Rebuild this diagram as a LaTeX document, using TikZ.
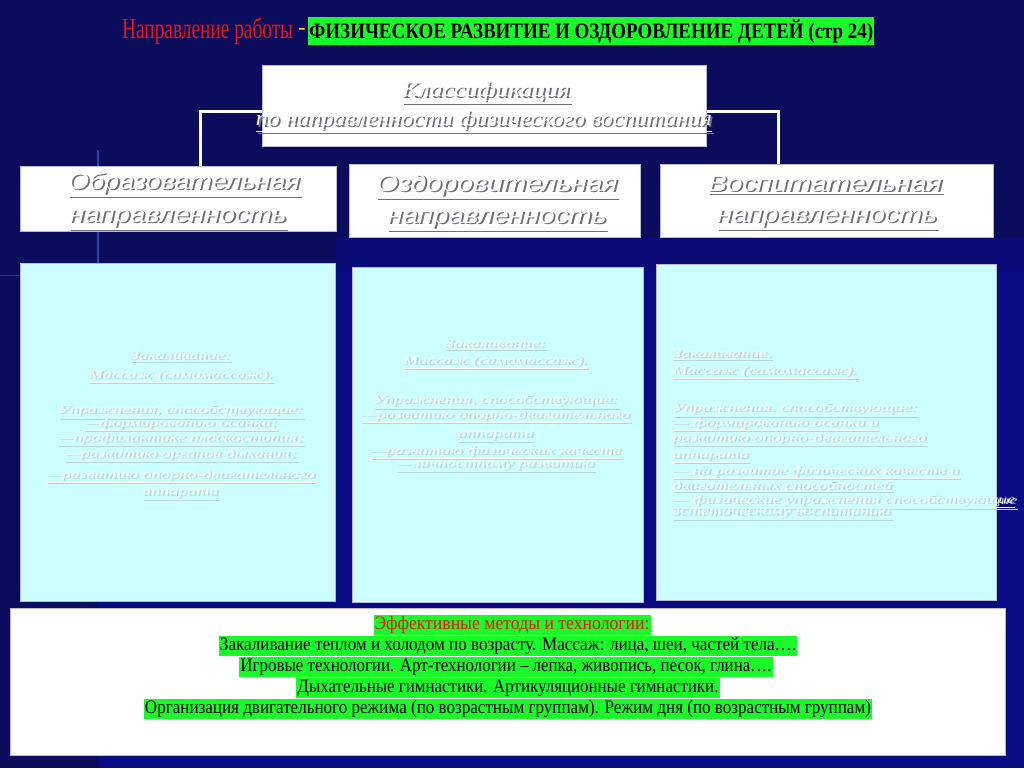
\documentclass[tikz,border=0pt]{standalone}
\usepackage{fontspec}
\usepackage{graphicx}
\setmainfont{Liberation Serif}
\setsansfont{Liberation Sans}
\definecolor{navyA}{RGB}{12,12,92}
\definecolor{navyB}{RGB}{10,10,130}
\definecolor{cyanbox}{RGB}{204,255,255}
\definecolor{hl}{RGB}{25,250,40}
\definecolor{titlered}{RGB}{235,20,20}
\definecolor{dashyel}{RGB}{240,200,40}
\definecolor{shadowc}{RGB}{110,110,125}
\definecolor{cshadow}{RGB}{182,212,218}
\definecolor{boxedge}{RGB}{185,185,215}
\definecolor{glow}{RGB}{60,110,220}
\newcommand\fitw[2]{\resizebox{#1}{\height}{#2}}
\newcommand\embw[2]{\leavevmode\rlap{\hspace{1.5pt}\raisebox{-1.5pt}{\textcolor{#1}{\underline{#2}}}}\textcolor{white}{\underline{#2}}}
\newcommand\cyt[1]{\scalebox{1.5}[1]{\embw{cshadow}{#1}}}
\tikzset{
  whitebox/.style={draw=boxedge, line width=0.8pt, fill=white},
  cybox/.style={draw=boxedge, line width=0.8pt, fill=cyanbox},
  conn/.style={draw=white, line width=3pt},
  hdtext/.style={inner sep=0pt, font=\sffamily\itshape\fontsize{23}{23}\selectfont},
  cltext/.style={inner sep=0pt, font=\itshape\fontsize{22}{22}\selectfont},
  cytext/.style={inner sep=0pt, font=\itshape\fontsize{12}{12}\selectfont},
  hltext/.style={fill=hl, inner xsep=1pt, inner ysep=1pt, font=\fontsize{19}{19}\selectfont},
}
\begin{document}
\begin{tikzpicture}[x=1pt,y=-1pt]
\useasboundingbox (0,0) rectangle (1024,768);
% background
\fill[navyA] (0,0) rectangle (1024,768);
\fill[navyB] (98,270) rectangle (1024,768);
\fill[navyB!70!navyA] (336,238) rectangle (1024,270);
\draw[glow, line width=1.5pt, opacity=0.6] (98,150) -- (98,340);
\draw[glow, line width=1pt, opacity=0.4] (0,275) -- (98,275);

% title
\node[anchor=west, inner sep=0pt, text=titlered, font=\fontsize{29}{29}\selectfont] (tred) at (122,31) {\fitw{171pt}{Направление работы}};
\node[anchor=center, inner sep=0pt, text=dashyel, font=\bfseries\fontsize{22}{22}\selectfont] (tdash) at (302,31) {-};
\node[anchor=west, fill=hl, inner xsep=1pt, inner ysep=2.5pt, font=\bfseries\fontsize{22}{22}\selectfont] (tgreen) at (308,31) {\fitw{564pt}{ФИЗИЧЕСКОЕ РАЗВИТИЕ И ОЗДОРОВЛЕНИЕ ДЕТЕЙ (стр 24)}};

% connector
\coordinate (j1) at (200,111);
\coordinate (j2) at (778,111);

% header boxes
\node[whitebox, minimum width=316pt, minimum height=65pt, anchor=north west] (lefth) at (20,166) {};
\node[whitebox, minimum width=291pt, minimum height=73pt, anchor=north west] (midh) at (349,164) {};
\node[whitebox, minimum width=333pt, minimum height=73pt, anchor=north west] (righth) at (660,164) {};
\draw[conn] (lefth.north -| j1) -- (j1) -- (j2) -- (righth.north -| j2);

% top box
\node[whitebox, minimum width=444pt, minimum height=81pt, anchor=north west] (cls) at (262,65) {};
\node[cltext] (cls1) at (486,93) {\fitw{168pt}{\embw{shadowc}{Классификация}}};
\node[cltext] (cls2) at (484,122) {\fitw{456pt}{\embw{shadowc}{по направленности физического воспитания}}};

% header texts
\node[hdtext] (l1) at (184,185) {\fitw{232pt}{\embw{shadowc}{Образовательная}}};
\node[hdtext] (l2) at (178,220) {\fitw{217pt}{\embw{shadowc}{направленность}}};
\node[hdtext] (m1) at (497,187) {\fitw{241pt}{\embw{shadowc}{Оздоровительная}}};
\node[hdtext] (m2) at (497,221) {\fitw{219pt}{\embw{shadowc}{направленность}}};
\node[hdtext] (r1) at (825,185) {\fitw{234pt}{\embw{shadowc}{Воспитательная}}};
\node[hdtext] (r2) at (827,220) {\fitw{220pt}{\embw{shadowc}{направленность}}};

% cyan boxes
\node[cybox, minimum width=315pt, minimum height=338pt, anchor=north west] (lbox) at (20,263) {};
\node[cybox, minimum width=291pt, minimum height=335pt, anchor=north west] (mbox) at (352,267) {};
\node[cybox, minimum width=340pt, minimum height=336pt, anchor=north west] (rbox) at (656,264) {};

\foreach \yy/\tt [count=\i] in {357/{Закаливание:}, 377/{Массаж (самомассаж).}, 412/{Упражнения, способствующие:}, 425/{—формированию осанки;}, 440/{—профилактике плоскостопия;}, 456/{—развитию органов дыхания;}, 477/{—развитию опорно-двигательного}, 495/{аппарата}}
  \node[cytext] (lt\i) at (180,\yy) {\cyt{\tt}};
\foreach \yy/\tt [count=\i] in {345/{Закаливание:}, 363/{Массаж (самомассаж).}, 402/{Упражнения, способствующие:}, 417/{—развитию опорно-двигательного}, 437/{аппарата}, 453/{—развитию физических качеств}, 467/{—личностному развитию}}
  \node[cytext] (mt\i) at (495,\yy) {\cyt{\tt}};
\foreach \yy/\tt [count=\i] in {355/{Закаливание.}, 373/{Массаж (самомассаж).}, 410/{Упражнения, способствующие:}, 425/{— формированию осанки и}, 440/{развитию опорно-двигательного}, 458/{аппарата}, 473/{— на развитие физических качеств и}, 487/{двигательных способностей}, 502/{— физические упражнения способствующие}, 515/{эстетическому воспитанию}}
  \node[cytext, anchor=west] (rt\i) at (672,\yy) {\cyt{\tt}};

% bottom box
\node[whitebox, minimum width=995pt, minimum height=147pt, anchor=north west] (bot) at (10,608) {};
\node[hltext, text=titlered] (b1) at (512,625) {\fitw{275pt}{\vphantom{Эу(}Эффективные методы и технологии:}};
\node[hltext] (b2) at (508,646) {\fitw{576pt}{\vphantom{Эу(}Закаливание теплом и холодом по возрасту. Массаж: лица, шеи, частей тела….}};
\node[hltext] (b3) at (506,667) {\fitw{531pt}{\vphantom{Эу(}Игровые технологии. Арт-технологии – лепка, живопись, песок, глина….}};
\node[hltext] (b4) at (508,688) {\fitw{421pt}{\vphantom{Эу(}Дыхательные гимнастики. Артикуляционные гимнастики.}};
\node[hltext] (b5) at (508,709) {\fitw{726pt}{\vphantom{Эу(}Организация двигательного режима (по возрастным группам). Режим дня (по возрастным группам)}};
\end{tikzpicture}
\end{document}
